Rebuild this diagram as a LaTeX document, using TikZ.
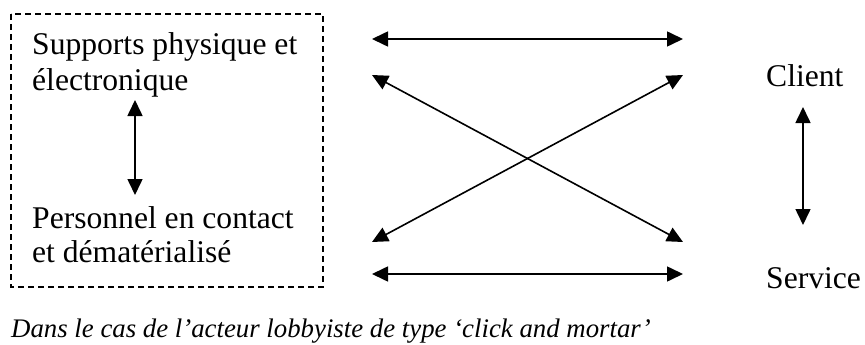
\documentclass[tikz,border=0pt]{standalone}
\usepackage{fontspec}
\setmainfont{Liberation Serif}
\usetikzlibrary{arrows.meta}
\begin{document}
\begin{tikzpicture}[x=1pt,y=-1pt,
  lbl/.style={anchor=base west,inner sep=0pt,font=\fontsize{31.6}{38}\selectfont},
  captxt/.style={anchor=base west,inner sep=0pt,font=\fontsize{26.8}{32}\selectfont\itshape},
  dbl/.style={line width=1.6pt,{Triangle[length=16pt,width=15pt]}-{Triangle[length=16pt,width=15pt]}},
  frame/.style={line width=1.3pt,dash pattern=on 6pt off 4pt}]
\useasboundingbox (0,0) rectangle (865,345);
\draw[frame] (11,14) rectangle (323,287);
\node[lbl] (sup1) at (32,55) {Supports physique et};
\node[lbl] (sup2) at (32,90) {électronique};
\node[lbl] (per1) at (32,228) {Personnel en contact};
\node[lbl] (per2) at (32,262) {et dématérialisé};
\node[lbl] (cli) at (766,87) {Client};
\node[lbl] (ser) at (766,288) {Service};
\node[captxt] (capt) at (11,337) {Dans le cas de l’acteur lobbyiste de type ‘click and mortar’};
\coordinate (la) at (135,100);
\coordinate (lb) at (135,195);
\coordinate (ca) at (803,107);
\coordinate (cb) at (803,225);
\coordinate (t1) at (372,39);
\coordinate (t2) at (683,39);
\coordinate (a) at (372,75);
\coordinate (b) at (683,75);
\coordinate (c) at (372,242);
\coordinate (d) at (683,242);
\coordinate (b1) at (372,274);
\coordinate (b2) at (683,274);
\draw[dbl] (la) -- (lb);
\draw[dbl] (ca) -- (cb);
\draw[dbl] (t1) -- (t2);
\draw[dbl] (b1) -- (b2);
\draw[dbl] (a) -- (d);
\draw[dbl] (c) -- (b);
\end{tikzpicture}
\end{document}
